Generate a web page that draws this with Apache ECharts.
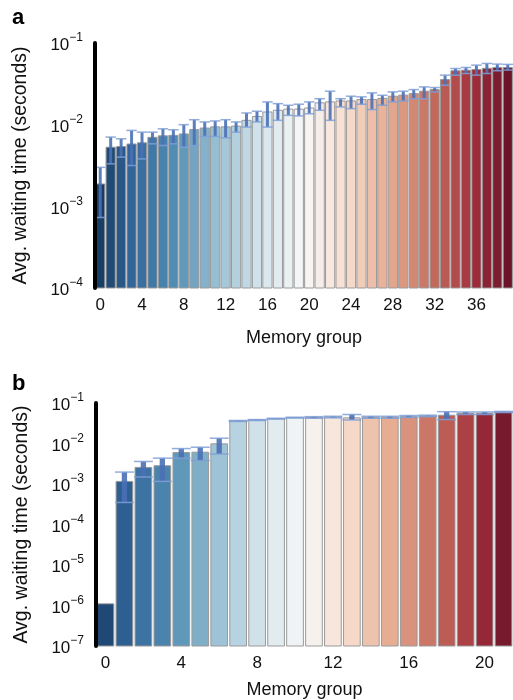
<!DOCTYPE html>
<html>
<head>
<meta charset="utf-8">
<script src="https://cdn.jsdelivr.net/npm/echarts@6/dist/echarts.min.js"></script>
<style>
html,body{margin:0;padding:0;background:#fff;}
#c{width:513px;height:700px;}
</style>
</head>
<body>
<div id="c"></div>
<script>
// ---------- DATA ----------
const groupsA = ['0','1','2','3','4','5','6','7','8','9','10','11','12','13','14','15','16','17','18','19',
  '20','21','22','23','24','25','26','27','28','29','30','31','32','33','34','35','36','37','38','39'];
const valuesA = [1.88e-3, 5.3e-3, 5.4e-3, 5.8e-3, 6.0e-3, 7.0e-3, 7.3e-3, 7.4e-3, 7.7e-3, 8.7e-3,
  9.1e-3, 9.4e-3, 9.4e-3, 9.6e-3, 1.13e-2, 1.26e-2, 1.43e-2, 1.5e-2, 1.55e-2, 1.55e-2,
  1.6e-2, 1.85e-2, 1.9e-2, 1.95e-2, 1.95e-2, 2.03e-2, 2.03e-2, 2.1e-2, 2.23e-2, 2.3e-2,
  2.4e-2, 2.57e-2, 2.69e-2, 3.57e-2, 4.57e-2, 4.65e-2, 4.74e-2, 4.9e-2, 5.02e-2, 5.0e-2];
const errLowA = [7.3e-4, 3.31e-3, 4.0e-3, 3.16e-3, 3.81e-3, 5.83e-3, 5.56e-3, 5.83e-3, 5.3e-3, 5.56e-3,
  7.18e-3, 7.18e-3, 6.92e-3, 8.1e-3, 9.35e-3, 1.08e-2, 9.35e-3, 1.13e-2, 1.30e-2, 1.28e-2,
  1.36e-2, 1.50e-2, 1.13e-2, 1.65e-2, 1.57e-2, 1.78e-2, 1.53e-2, 1.73e-2, 1.90e-2, 1.95e-2,
  2.08e-2, 2.08e-2, 2.52e-2, 3.04e-2, 4.04e-2, 4.23e-2, 4.04e-2, 4.23e-2, 4.57e-2, 4.66e-2];
const errHighA = [3.0e-3, 7.05e-3, 6.72e-3, 8.5e-3, 8.1e-3, 8.1e-3, 8.9e-3, 8.67e-3, 1.0e-2, 1.15e-2,
  1.08e-2, 1.11e-2, 1.15e-2, 1.08e-2, 1.39e-2, 1.46e-2, 1.90e-2, 1.81e-2, 1.73e-2, 1.78e-2,
  1.90e-2, 2.08e-2, 2.57e-2, 2.08e-2, 2.23e-2, 2.19e-2, 2.45e-2, 2.29e-2, 2.52e-2, 2.57e-2,
  2.69e-2, 2.90e-2, 2.85e-2, 4.04e-2, 4.87e-2, 5.02e-2, 5.36e-2, 5.62e-2, 5.52e-2, 5.47e-2];

const groupsB = ['0','1','2','3','4','5','6','7','8','9','10','11','12','13','14','15','16','17','18','19','20','21'];
const valuesB = [1.1e-6, 1.16e-3, 2.57e-3, 2.82e-3, 6.0e-3, 6.1e-3, 9.8e-3, 3.6e-2, 3.8e-2, 4.1e-2,
  4.35e-2, 4.4e-2, 4.5e-2, 4.3e-2, 4.44e-2, 4.44e-2, 4.6e-2, 4.8e-2, 5.0e-2, 5.57e-2, 5.57e-2, 6.0e-2];
const errLowB = [1.1e-6, 3.5e-4, 1.49e-3, 1.16e-3, 4.35e-3, 3.8e-3, 5.5e-3, 3.5e-2, 3.7e-2, 4.0e-2,
  4.25e-2, 4.2e-2, 4.3e-2, 3.82e-2, 4.2e-2, 4.2e-2, 4.4e-2, 4.6e-2, 3.9e-2, 5.2e-2, 5.2e-2, 5.8e-2];
const errHighB = [1.1e-6, 1.97e-3, 3.6e-3, 4.35e-3, 7.5e-3, 8.1e-3, 1.35e-2, 3.7e-2, 3.9e-2, 4.2e-2,
  4.45e-2, 4.6e-2, 4.7e-2, 5.2e-2, 4.7e-2, 4.7e-2, 4.9e-2, 5.0e-2, 6.1e-2, 6.0e-2, 6.0e-2, 6.2e-2];

const yRangeA = [1e-4, 1e-1];
const yRangeB = [1e-7, 1e-1];

// ---------- COLOURS (RdBu_r, seaborn-like desaturation) ----------
const rdbu = ['#053061','#2166ac','#4393c3','#92c5de','#d1e5f0','#f7f7f7','#fddbc7','#f4a582','#d6604d','#b2182b','#67001f'];
function hex2rgb(h){return [parseInt(h.substr(1,2),16)/255,parseInt(h.substr(3,2),16)/255,parseInt(h.substr(5,2),16)/255];}
function cmap(t){
  const x = t*(rdbu.length-1); const i = Math.min(Math.floor(x), rdbu.length-2); const f = x-i;
  const a = hex2rgb(rdbu[i]), b = hex2rgb(rdbu[i+1]);
  return [0,1,2].map(k=>a[k]+(b[k]-a[k])*f);
}
function desat(rgb, p){
  const [r,g,b]=rgb; const mx=Math.max(r,g,b), mn=Math.min(r,g,b); const l=(mx+mn)/2;
  let h=0,s=0;
  if(mx!==mn){const d=mx-mn; s = l>0.5? d/(2-mx-mn) : d/(mx+mn);
    if(mx===r) h=((g-b)/d)%6; else if(mx===g) h=(b-r)/d+2; else h=(r-g)/d+4; h/=6; if(h<0)h+=1;}
  s*=p;
  function hue(p_,q,t){if(t<0)t+=1;if(t>1)t-=1;if(t<1/6)return p_+(q-p_)*6*t;if(t<1/2)return q;if(t<2/3)return p_+(q-p_)*(2/3-t)*6;return p_;}
  let R,G,B;
  if(s===0){R=G=B=l;} else {const q=l<0.5?l*(1+s):l+s-l*s; const pp=2*l-q; R=hue(pp,q,h+1/3);G=hue(pp,q,h);B=hue(pp,q,h-1/3);}
  return 'rgb('+[R,G,B].map(v=>Math.round(v*255)).join(',')+')';
}
function palette(n){const out=[];for(let i=0;i<n;i++){out.push(desat(cmap((i+1)/(n+1)),0.75));}return out;}
const colA = palette(groupsA.length), colB = palette(groupsB.length);

// ---------- helpers ----------
function supLabel(v){
  const e = Math.round(Math.log10(v));
  return '{b|10}{s|\u2212' + Math.abs(e) + '}';
}
const rich = {
  b:{fontSize:17, fontFamily:'Liberation Sans', color:'#111', lineHeight:22, verticalAlign:'bottom'},
  s:{fontSize:12, fontFamily:'Liberation Sans', color:'#111', lineHeight:22, verticalAlign:'top', padding:[0,0,8,0]}
};
function barRender(colors){
  return function(params, api){
    const i = api.value(0);
    const top = api.coord([i, api.value(1)]);
    const cs = params.coordSys;
    const bottom = cs.y + cs.height;
    const bw = api.size([1,0])[0];
    const w = bw*0.88;
    return {type:'rect', shape:{x:top[0]-w/2, y:top[1], width:w, height:bottom-top[1]},
      style:{fill:colors[params.dataIndex], stroke:'#9a9a9a', lineWidth:1}};
  };
}
function errRender(params, api){
  const i = api.value(0);
  const p1 = api.coord([i, api.value(1)]);
  const p2 = api.coord([i, api.value(2)]);
  const bw = api.size([1,0])[0];
  const cw = bw*0.5;
  return {type:'group', children:[
    {type:'line', shape:{x1:p1[0],y1:p1[1],x2:p2[0],y2:p2[1]}, style:{stroke:'#4a70b6', lineWidth:Math.max(3,bw*0.28), opacity:0.9}},
    {type:'line', shape:{x1:p1[0]-cw,y1:p1[1],x2:p1[0]+cw,y2:p1[1]}, style:{stroke:'#7f9fd6', lineWidth:1.5, opacity:0.85}},
    {type:'line', shape:{x1:p2[0]-cw,y1:p2[1],x2:p2[0]+cw,y2:p2[1]}, style:{stroke:'#7f9fd6', lineWidth:1.5, opacity:0.85}}
  ]};
}

const chart = echarts.init(document.getElementById('c'), null, {renderer:'canvas'});
const axisFont = {fontFamily:'Liberation Sans', color:'#111', fontSize:17};
const nameFont = {fontFamily:'Liberation Sans', color:'#111', fontSize:18};
const yNameFont = {fontFamily:'Liberation Sans', color:'#111', fontSize:19.5};

chart.setOption({
  backgroundColor:'#fff',
  animation:false,
  title:[
    {text:'a', left:7, top:2, textStyle:{fontFamily:'Liberation Sans', fontWeight:'bold', fontSize:22, color:'#000'}},
    {text:'b', left:7, top:368, textStyle:{fontFamily:'Liberation Sans', fontWeight:'bold', fontSize:22, color:'#000'}}
  ],
  grid:[
    {left:95, top:43, height:245, width:422.4},
    {left:96, top:403, height:244, width:417.3}
  ],
  xAxis:[
    {type:'category', gridIndex:0, data:groupsA, axisLine:{show:false}, axisTick:{show:false},
     axisLabel:Object.assign({interval:3, margin:9}, axisFont),
     name:'Memory group', nameLocation:'middle', nameGap:41, nameTextStyle:nameFont},
    {type:'category', gridIndex:1, data:groupsB, axisLine:{show:false}, axisTick:{show:false},
     axisLabel:Object.assign({interval:3, margin:9}, axisFont),
     name:'Memory group', nameLocation:'middle', nameGap:35, nameTextStyle:nameFont}
  ],
  yAxis:[
    {type:'log', gridIndex:0, logBase:10, min:yRangeA[0], max:yRangeA[1], z:10,
     axisLine:{show:true, lineStyle:{color:'#000', width:4}}, axisTick:{show:false}, minorTick:{show:false},
     splitLine:{show:false},
     axisLabel:{formatter:supLabel, rich:rich, margin:12},
     name:'Avg. waiting time (seconds)', nameLocation:'middle', nameGap:64, nameTextStyle:yNameFont},
    {type:'log', gridIndex:1, logBase:10, min:yRangeB[0], max:yRangeB[1], z:10,
     axisLine:{show:true, lineStyle:{color:'#000', width:4}}, axisTick:{show:false}, minorTick:{show:false},
     splitLine:{show:false},
     axisLabel:{formatter:supLabel, rich:rich, margin:12},
     name:'Avg. waiting time (seconds)', nameLocation:'middle', nameGap:64, nameTextStyle:yNameFont}
  ],
  series:[
    {type:'custom', xAxisIndex:0, yAxisIndex:0, z:2, renderItem:barRender(colA),
     data:valuesA.map((v,i)=>[i, v])},
    {type:'custom', xAxisIndex:0, yAxisIndex:0, z:3, renderItem:errRender,
     data:valuesA.map((v,i)=>[i, errLowA[i], errHighA[i]])},
    {type:'custom', xAxisIndex:1, yAxisIndex:1, z:2, renderItem:barRender(colB),
     data:valuesB.map((v,i)=>[i, v])},
    {type:'custom', xAxisIndex:1, yAxisIndex:1, z:3, renderItem:errRender,
     data:valuesB.map((v,i)=>[i, errLowB[i], errHighB[i]]).filter(d=>d[2]>d[1])}
  ]
});
</script>
</body>
</html>
